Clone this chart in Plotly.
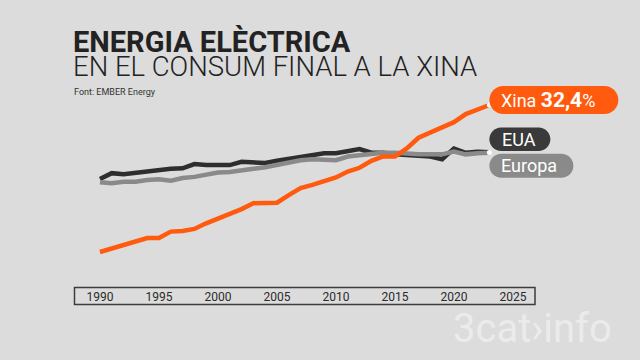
import plotly.graph_objects as go

years = list(range(1990, 2024))
xina = [5.0, 5.6, 6.3, 6.8, 7.6, 7.6, 8.8, 8.9, 9.3, 10.35, 11.2, 12.1, 13.0, 14.1, 14.1, 14.2,
        15.6, 16.9, 17.5, 18.1, 18.9, 20.0, 20.7, 22.0, 22.8, 22.8, 24.3, 26.3, 27.3, 28.2,
        29.2, 30.7, 31.6, 32.4]
eua = [18.6, 19.7, 19.5, 19.8, 20.0, 20.4, 20.5, 20.6, 21.4, 21.2, 21.2, 21.2, 21.8, 21.6,
       21.6, 22.0, 22.4, 22.8, 23.2, 23.4, 23.4, 23.8, 24.2, 23.5, 23.5, 23.2, 23.1, 23.0,
       22.8, 22.3, 24.3, 23.5, 23.7, 23.6]
europa = [18.0, 17.8, 18.1, 18.1, 18.4, 18.55, 18.3, 18.8, 19.0, 19.4, 19.8, 19.9, 20.3,
          20.5, 20.8, 21.2, 21.8, 22.1, 22.3, 22.3, 22.1, 22.8, 23.1, 23.4, 23.5, 23.5, 23.3,
          23.2, 23.2, 23.2, 23.7, 23.2, 23.4, 23.5]
tick_years = [1990, 1995, 2000, 2005, 2010, 2015, 2020, 2025]

BG = "#dcdcdc"
ORANGE = "#ff5a0d"
DARK = "#2e2e2e"
GRAY = "#8a8a8a"
FONT = "Roboto"

W, H = 640, 360
ML, MR, MT, MB = 74, 10, 75, 73
PW, PH = W - ML - MR, H - MT - MB
XPX = 11.8            # pixels per year
YPX = 5.365           # pixels per percentage point
x0 = 1987.8
x1 = x0 + PW / XPX
y1 = 32.4 + 30 / YPX
y0 = y1 - PH / YPX

def px(xp):
    return (xp - ML) / PW

def py(yp):
    return (H - MB - yp) / PH

fig = go.Figure()
for name, vals, col in [("EUA", eua, DARK), ("Europa", europa, GRAY), ("Xina", xina, ORANGE)]:
    fig.add_trace(go.Scatter(x=years, y=vals, mode="lines", name=name,
                             line=dict(color=col, width=4.5), hoverinfo="skip"))

def pill(w, h, cy):
    r = h / 2.0
    k = 0.5523 * r
    a, b = 0, w
    yt, yb = cy + r, cy - r
    return (f"M {a + r},{yt} L {b - r},{yt} "
            f"C {b - r + k},{yt} {b},{cy + k} {b},{cy} "
            f"C {b},{cy - k} {b - r + k},{yb} {b - r},{yb} "
            f"L {a + r},{yb} "
            f"C {a + r - k},{yb} {a},{cy - k} {a},{cy} "
            f"C {a},{cy + k} {a + r - k},{yt} {a + r},{yt} Z")

last = years[-1]
labels = [
    (xina[-1], 129, 28, 5, ORANGE, "Xina <b style='font-size:21px'>32,4</b>%", 18, 10),
    (eua[-1], 61, 23.5, 13, "#3a3a3a", "EUA", 18, 11),
    (europa[-1], 84, 24, -13, GRAY, "Europa", 18, 10),
]
for yv, w, h, cy, col, txt, fs, xs in labels:
    fig.add_shape(type="path", xref="x", yref="y", xsizemode="pixel", ysizemode="pixel",
                  xanchor=last, yanchor=yv, path=pill(w, h, cy), fillcolor=col,
                  line=dict(width=0), layer="above")
    fig.add_annotation(x=last, y=yv, xref="x", yref="y", text=txt, showarrow=False,
                       xanchor="left", yanchor="middle", xshift=xs, yshift=cy,
                       font=dict(family=FONT, size=fs, color="white"))

fig.add_trace(go.Scatter(x=[last, last], y=[xina[-1], (eua[-1] + europa[-1]) / 2],
                         mode="markers", marker=dict(color="white", size=5),
                         hoverinfo="skip", showlegend=False))

# axis box
fig.add_shape(type="rect", xref="paper", yref="paper", x0=px(74.5), x1=px(535),
              y0=py(304.5), y1=py(287.5), line=dict(color="#3c3c3c", width=1.5),
              fillcolor="rgba(0,0,0,0)", layer="above")

# titles (one block)
title_txt = ("<span style='font-size:29px;font-weight:900'><b>ENERGIA ELÈCTRICA</b></span><br>"
             "<span style='font-size:27.5px;font-weight:300'>EN EL CONSUM FINAL A LA XINA</span>")
fig.add_annotation(xref="paper", yref="paper", x=px(71), y=py(54), text=title_txt,
                   showarrow=False, xanchor="left", yanchor="middle", align="left",
                   font=dict(family=FONT, size=18.5, color="#222222"))
fig.add_annotation(xref="paper", yref="paper", x=px(72), y=py(91.5), text="Font: EMBER Energy",
                   showarrow=False, xanchor="left", yanchor="middle",
                   font=dict(family=FONT, size=9, color="#333333"))
fig.add_annotation(xref="paper", yref="paper", x=px(532), y=py(328), text="3cat›info",
                   showarrow=False, xanchor="center", yanchor="middle",
                   font=dict(family=FONT, size=40, color="#ebebeb", weight=400))

fig.update_layout(
    width=W, height=H, margin=dict(l=ML, r=MR, t=MT, b=MB),
    paper_bgcolor=BG, plot_bgcolor=BG, showlegend=False,
    xaxis=dict(range=[x0, x1], tickvals=tick_years, ticks="", showgrid=False,
               zeroline=False, showline=False, ticklabelstandoff=1,
               tickfont=dict(family=FONT, size=12, color="#2a2a2a")),
    yaxis=dict(range=[y0, y1], visible=False, showgrid=False, zeroline=False),
)

fig.write_html("out.html", config={"displayModeBar": False, "staticPlot": True},
               post_script="document.body.style.margin='0';")
